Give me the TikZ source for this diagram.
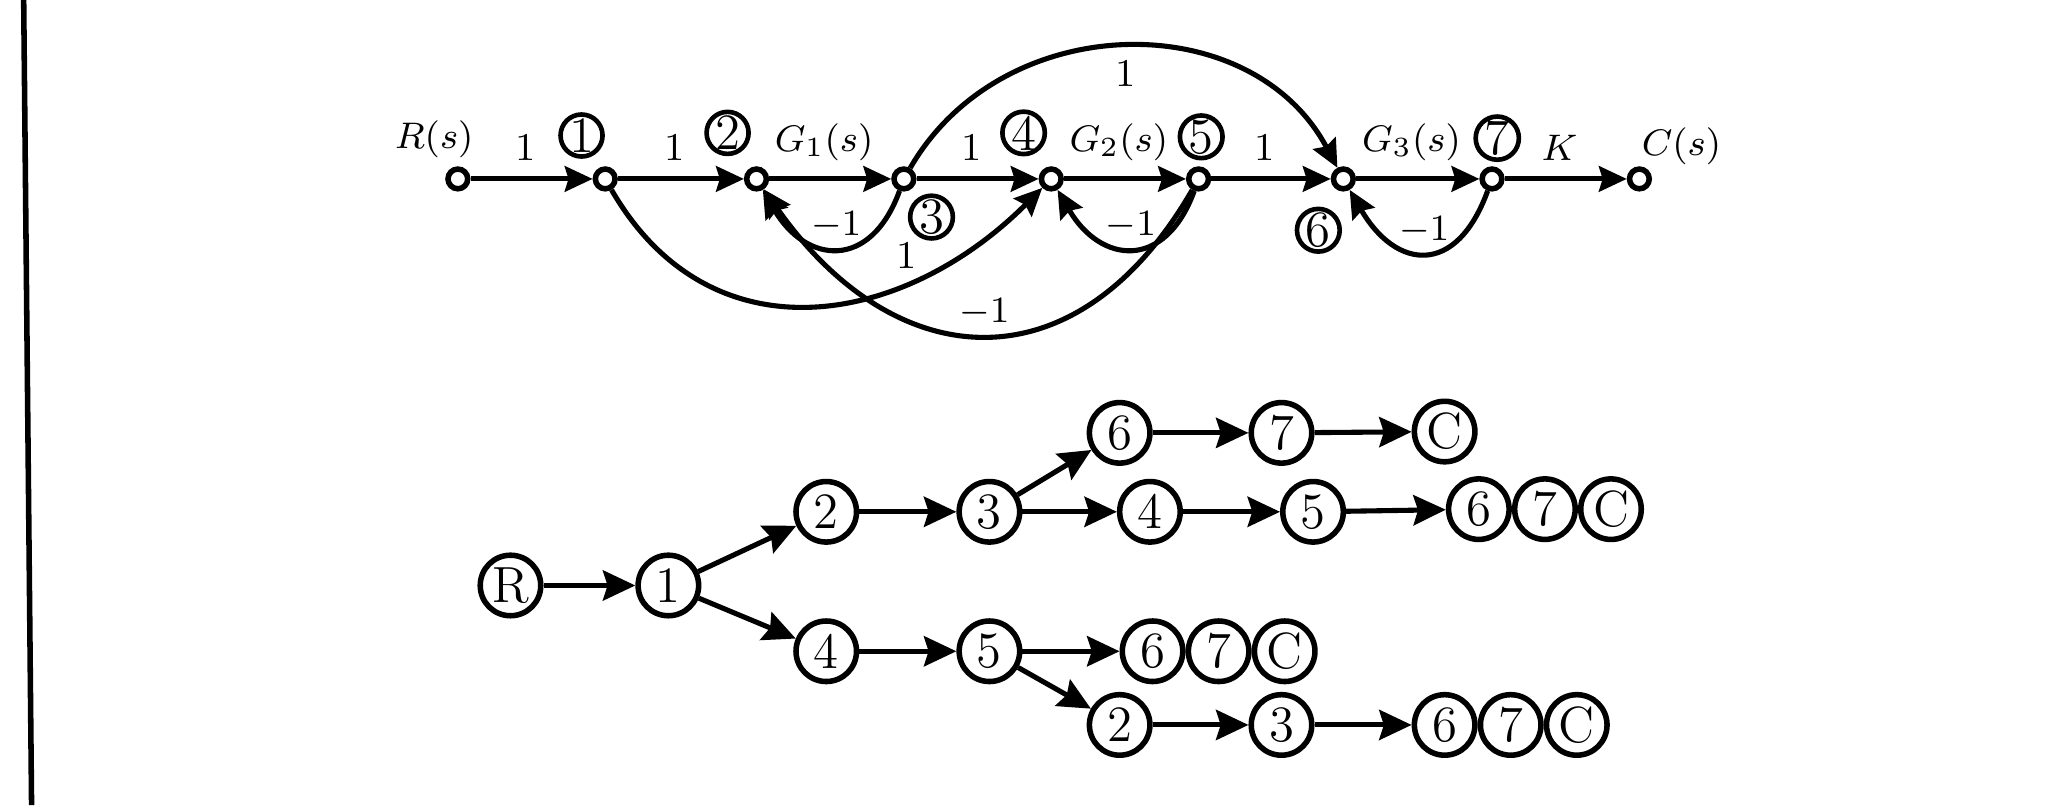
\documentclass[tikz,border=0pt]{standalone}
\usetikzlibrary{arrows.meta,positioning}
\begin{document}
\begin{tikzpicture}[
		sig/.style={circle,draw,line width=1.2pt,fill=white,minimum size=0.15cm,inner sep=0pt},
		cnum/.style={circle,draw,line width=1pt,inner sep=0pt,font=\fontsize{11}{12}\selectfont},
		gain/.style={font=\fontsize{8.5}{10}\selectfont},
		bnode/.style={circle,draw,line width=1.2pt,minimum size=0.46cm,inner sep=0pt,font=\fontsize{11}{12}\selectfont},
		tflow/.style={line width=1.1pt,-{Stealth[length=6pt,width=5.5pt,inset=0.8pt]}},
		flow/.style={line width=1.1pt,-{Stealth[length=7pt,width=6.5pt,inset=1pt]}}
	]
	\useasboundingbox (0,0) rectangle (15.68,6.12);
	\draw [line width=1.2pt] (0.18,6.12) -- (0.24,0);
	\node [sig] (r) at (3.48,4.76) {};
	\node [sig] (1) at (4.60,4.76) {};
	\node [sig] (2) at (5.75,4.76) {};
	\node [sig] (3) at (6.87,4.76) {};
	\node [sig] (4) at (7.99,4.76) {};
	\node [sig] (5) at (9.11,4.76) {};
	\node [sig] (6) at (10.21,4.76) {};
	\node [sig] (7) at (11.34,4.76) {};
	\node [sig] (c) at (12.46,4.76) {};
	\node [gain] (rs) at (3.30,5.06) {$R(s)$};
	\node [gain] (cs) at (12.78,5.01) {$C(s)$};
	\node [cnum] (l1) at (4.42,5.09) {1};
	\node [cnum] (l2) at (5.53,5.11) {2};
	\node [cnum] (l3) at (7.08,4.47) {3};
	\node [cnum] (l4) at (7.78,5.11) {4};
	\node [cnum] (l5) at (9.13,5.08) {5};
	\node [cnum] (l6) at (10.02,4.37) {6};
	\node [cnum] (l7) at (11.38,5.07) {7};
	\draw [tflow] (r) -- node[gain,above,pos=0.45] {1} (1);
	\draw [tflow] (1) -- node[gain,above,pos=0.45] {1} (2);
	\draw [tflow] (2) -- node[gain,above,pos=0.45] {$G_1(s)$} (3);
	\draw [tflow] (3) -- node[gain,above,pos=0.45] {1} (4);
	\draw [tflow] (4) -- node[gain,above,pos=0.45] {$G_2(s)$} (5);
	\draw [tflow] (5) -- node[gain,above,pos=0.45] {1} (6);
	\draw [tflow] (6) -- node[gain,above,pos=0.45] {$G_3(s)$} (7);
	\draw [tflow] (7) -- node[gain,above,pos=0.45] {$K$} (c);
	\draw [tflow] (3) to[out=60,in=118,distance=1.4cm] node[gain,below=-1pt] {1} (6);
	\draw [tflow] (3) to[out=-110,in=-60,distance=0.65cm] node[gain,above=-2pt] {$-1$} (2);
	\draw [tflow] (5) to[out=-110,in=-60,distance=0.65cm] node[gain,above=-2pt] {$-1$} (4);
	\draw [tflow] (7) to[out=-110,in=-60,distance=0.7cm] node[gain,above=-2pt] {$-1$} (6);
	\draw [tflow] (1) to[out=-60,in=-135,distance=1.5cm] node[gain,pos=0.7,above=-1pt] {1} (4);
	\draw [tflow] (5) to[out=-120,in=-55,distance=1.75cm] node[gain,above=-2pt] {$-1$} (2);
	\node [bnode] (bR) at (3.88,1.67) {R};
	\node [bnode] (b1) at (5.08,1.67) {1};
	\node [bnode] (b2) at (6.28,2.23) {2};
	\node [bnode] (b3) at (7.52,2.23) {3};
	\node [bnode] (b4) at (6.28,1.17) {4};
	\node [bnode] (b5) at (7.52,1.17) {5};
	\node [bnode] (b6) at (8.51,2.83) {6};
	\node [bnode] (b7) at (9.74,2.83) {7};
	\node [bnode] (bC) at (10.98,2.84) {C};
	\node [bnode] (b4x) at (8.74,2.23) {4};
	\node [bnode] (b5x) at (9.98,2.23) {5};
	\node [bnode] (b6x) at (11.24,2.25) {6};
	\node [bnode,right=0pt of b6x] (b7x) {7};
	\node [bnode,right=0pt of b7x] (bCx) {C};
	\node [bnode] (b6y) at (8.76,1.17) {6};
	\node [bnode,right=0pt of b6y] (b7y) {7};
	\node [bnode,right=0pt of b7y] (bCy) {C};
	\node [bnode] (b2z) at (8.51,0.61) {2};
	\node [bnode] (b3z) at (9.74,0.61) {3};
	\node [bnode] (b6z) at (10.98,0.61) {6};
	\node [bnode,right=0pt of b6z] (b7z) {7};
	\node [bnode,right=0pt of b7z] (bCz) {C};
	\draw [flow] (bR) -- (b1);
	\draw [flow] (b1) -- (b2);
	\draw [flow] (b1) -- (b4);
	\draw [flow] (b2) -- (b3);
	\draw [flow] (b4) -- (b5);
	\draw [flow] (b3) -- (b6);
	\draw [flow] (b6) -- (b7);
	\draw [flow] (b7) -- (bC);
	\draw [flow] (b3) -- (b4x);
	\draw [flow] (b4x) -- (b5x);
	\draw [flow] (b5x) -- (b6x);
	\draw [flow] (b5) -- (b6y);
	\draw [flow] (b5) -- (b2z);
	\draw [flow] (b2z) -- (b3z);
	\draw [flow] (b3z) -- (b6z);
\end{tikzpicture}
\end{document}
